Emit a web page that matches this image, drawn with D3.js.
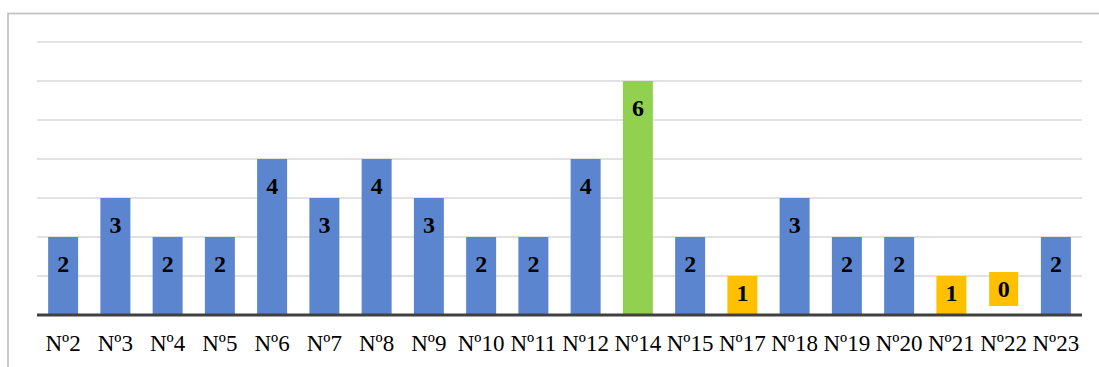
<!DOCTYPE html>
<html>
<head>
<meta charset="utf-8">
<script src="https://cdn.jsdelivr.net/npm/d3@7/dist/d3.min.js"></script>
<style>
  html, body { margin: 0; padding: 0; background: #ffffff; }
  svg { display: block; }
</style>
</head>
<body>
<svg id="chart" width="1099" height="367"></svg>
<script>
// Counts per item
const categories = ["Nº2","Nº3","Nº4","Nº5","Nº6","Nº7","Nº8","Nº9","Nº10","Nº11","Nº12","Nº14","Nº15","Nº17","Nº18","Nº19","Nº20","Nº21","Nº22","Nº23"];
const values     = [2, 3, 2, 2, 4, 3, 4, 3, 2, 2, 4, 6, 2, 1, 3, 2, 2, 1, 0, 2];
const yTicks     = [0, 1, 2, 3, 4, 5, 6, 7];

const plotLeft = 37, plotRight = 1082, plotTop = 42, plotBase = 315;

const BLUE = "#5B86CF", GREEN = "#92D050", YELLOW = "#FFC000";
function barColor(v) {
  if (v >= 6) return GREEN;
  if (v <= 1) return YELLOW;
  return BLUE;
}

const svg = d3.select("#chart");

// chart frame
svg.append("rect")
  .attr("x", 8).attr("y", 13.5)
  .attr("width", 1200).attr("height", 400)
  .attr("fill", "#ffffff")
  .attr("stroke", "#c4c4c4").attr("stroke-width", 1.8);

const x = d3.scaleBand()
  .domain(categories)
  .range([plotLeft, plotRight])
  .paddingInner(0.426)
  .paddingOuter(0.213);

const y = d3.scaleLinear()
  .domain([0, 7])
  .range([plotBase, plotTop]);

// horizontal gridlines
svg.append("g")
  .selectAll("line")
  .data(yTicks.filter(t => t > 0))
  .join("line")
  .attr("x1", plotLeft).attr("x2", plotRight)
  .attr("y1", d => y(d)).attr("y2", d => y(d))
  .attr("stroke", "#d9d9d9").attr("stroke-width", 1.4);

const data = categories.map((c, i) => ({ c, v: values[i] }));

// bars
svg.append("g")
  .selectAll("rect")
  .data(data.filter(d => d.v > 0))
  .join("rect")
  .attr("x", d => x(d.c))
  .attr("y", d => y(d.v))
  .attr("width", x.bandwidth())
  .attr("height", d => y(0) - y(d.v))
  .attr("fill", d => barColor(d.v));

// category axis line
svg.append("line")
  .attr("x1", plotLeft).attr("x2", plotRight)
  .attr("y1", plotBase).attr("y2", plotBase)
  .attr("stroke", "#404040").attr("stroke-width", 3);

// category labels
svg.append("g")
  .selectAll("text")
  .data(categories)
  .join("text")
  .attr("x", d => x(d) + x.bandwidth() / 2)
  .attr("y", 351)
  .attr("text-anchor", "middle")
  .attr("font-family", "'Liberation Serif', 'Times New Roman', serif")
  .attr("font-size", 23)
  .attr("fill", "#000000")
  .text(d => d);

// value labels: inside end of the bar, centred when the bar is short
function labelCenter(v) {
  if (v === 0) return y(0) - 26;
  const t = y(v);
  return Math.min(t + 27, (t + y(0)) / 2 - 3);
}

const lbl = svg.append("g");
// zero-value label gets its own filled box
lbl.selectAll("rect")
  .data(data.filter(d => d.v === 0))
  .join("rect")
  .attr("x", d => x(d.c) + x.bandwidth() / 2 - 14.5)
  .attr("y", d => labelCenter(d.v) - 17)
  .attr("width", 29)
  .attr("height", 34)
  .attr("fill", YELLOW);

lbl.selectAll("text")
  .data(data)
  .join("text")
  .attr("x", d => x(d.c) + x.bandwidth() / 2)
  .attr("y", d => labelCenter(d.v))
  .attr("dy", "0.35em")
  .attr("text-anchor", "middle")
  .attr("font-family", "'Liberation Serif', 'Times New Roman', serif")
  .attr("font-weight", "bold")
  .attr("font-size", 24)
  .attr("fill", "#000000")
  .text(d => d.v);
</script>
</body>
</html>
